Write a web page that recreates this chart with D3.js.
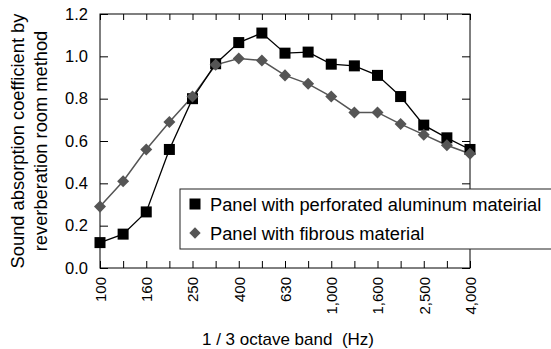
<!DOCTYPE html>
<html><head><meta charset="utf-8">
<script src="https://cdn.jsdelivr.net/npm/d3@7"></script>
<style>
body{margin:0;background:#fff;}
svg{display:block;font-family:"Liberation Sans",Arial,sans-serif;}
</style></head>
<body><svg id="c" width="551" height="349"></svg>
<script>
const categories = ["100","125","160","200","250","315","400","500","630","800","1,000","1,250","1,600","2,000","2,500","3,150","4,000"];
const tickLabels = ["100","160","250","400","630","1,000","1,600","2,500","4,000"];
const aluminum = [0.12,0.16,0.265,0.56,0.80,0.965,1.065,1.11,1.015,1.02,0.963,0.955,0.91,0.81,0.675,0.615,0.56];
const fibrous = [0.29,0.41,0.56,0.69,0.81,0.96,0.99,0.98,0.91,0.87,0.81,0.735,0.735,0.68,0.63,0.58,0.54];
const yTicks = [0,0.2,0.4,0.6,0.8,1.0,1.2];
const seriesNames = ["Panel with perforated aluminum mateirial","Panel with fibrous material"];

const L=100,R=470,T=14,B=268;
const svg=d3.select("#c");
const x=d3.scalePoint().domain(categories).range([L,R]);
const y=d3.scaleLinear().domain([0,1.2]).range([B,T]);

svg.append("g").attr("transform",`translate(${L},0)`)
  .call(d3.axisLeft(y).tickValues(yTicks).tickSize(-8).tickPadding(12).tickFormat(d3.format(".1f")))
  .call(g=>{g.select(".domain").remove();g.selectAll("text").attr("font-size",16.5).attr("fill","#000").attr("font-family","Liberation Sans, Arial");g.selectAll("line").attr("stroke","#000");});
svg.append("g").attr("transform",`translate(${R},0)`)
  .call(d3.axisRight(y).tickValues(yTicks).tickSize(-8).tickFormat(""))
  .call(g=>{g.select(".domain").remove();g.selectAll("line").attr("stroke","#000");});
svg.append("g").attr("transform",`translate(0,${T})`)
  .call(d3.axisTop(x).tickSize(-6).tickFormat(""))
  .call(g=>{g.select(".domain").remove();g.selectAll("line").attr("stroke","#000");});
const xb=svg.append("g").attr("transform",`translate(0,${B})`)
  .call(d3.axisBottom(x).tickSize(-7).tickFormat(d=>tickLabels.includes(d)?d:""))
  .call(g=>{g.select(".domain").remove();g.selectAll("line").attr("stroke","#000");});
xb.selectAll("text").attr("font-size",15).attr("fill","#000").attr("font-family","Liberation Sans, Arial")
  .attr("text-anchor","end").attr("transform","rotate(-90)").attr("x",-9).attr("y",0).attr("dy","0.35em");

svg.append("rect").attr("x",L).attr("y",T).attr("width",R-L).attr("height",B-T)
  .attr("fill","none").attr("stroke","#000").attr("stroke-width",1);

const line=d3.line().x((d,i)=>x(categories[i])).y(d=>y(d));
svg.append("path").datum(fibrous).attr("d",line).attr("fill","none").attr("stroke","#555").attr("stroke-width",1.5);
svg.append("path").datum(aluminum).attr("d",line).attr("fill","none").attr("stroke","#000").attr("stroke-width",1.3);

const sq=11, dm=8.5;
svg.append("g").selectAll("rect").data(aluminum).join("rect")
  .attr("x",(d,i)=>x(categories[i])-sq/2).attr("y",d=>y(d)-sq/2).attr("width",sq).attr("height",sq).attr("fill","#000");
svg.append("g").selectAll("rect").data(fibrous).join("rect")
  .attr("x",-dm/2).attr("y",-dm/2).attr("width",dm).attr("height",dm).attr("fill","#555")
  .attr("transform",(d,i)=>`translate(${x(categories[i])},${y(d)}) rotate(45)`);

const lg=svg.append("g");
lg.append("rect").attr("x",180).attr("y",189).attr("width",390).attr("height",60).attr("fill","#fff").attr("stroke","#222").attr("stroke-width",1);
lg.append("rect").attr("x",195-5.5).attr("y",204-5.5).attr("width",11).attr("height",11).attr("fill","#000");
lg.append("rect").attr("x",-4).attr("y",-4).attr("width",8).attr("height",8).attr("fill","#555").attr("transform","translate(195,233) rotate(45)");
lg.selectAll("text.l").data(seriesNames).join("text").attr("class","l")
  .attr("x",210).attr("y",(d,i)=>211+i*28.5).attr("font-size",18.3).attr("fill","#000").text(d=>d);

svg.append("text").attr("x",288).attr("y",345).attr("text-anchor","middle").attr("font-size",17).style("white-space","pre").text("1 / 3 octave band  (Hz)");
const yt=svg.append("text").attr("transform","translate(0,141) rotate(-90)").attr("text-anchor","middle").attr("font-size",18.3);
yt.append("tspan").attr("x",0).attr("y",24).text("Sound absorption coefficient by");
yt.append("tspan").attr("x",0).attr("y",46.5).text("reverberation room method");
</script></body></html>
